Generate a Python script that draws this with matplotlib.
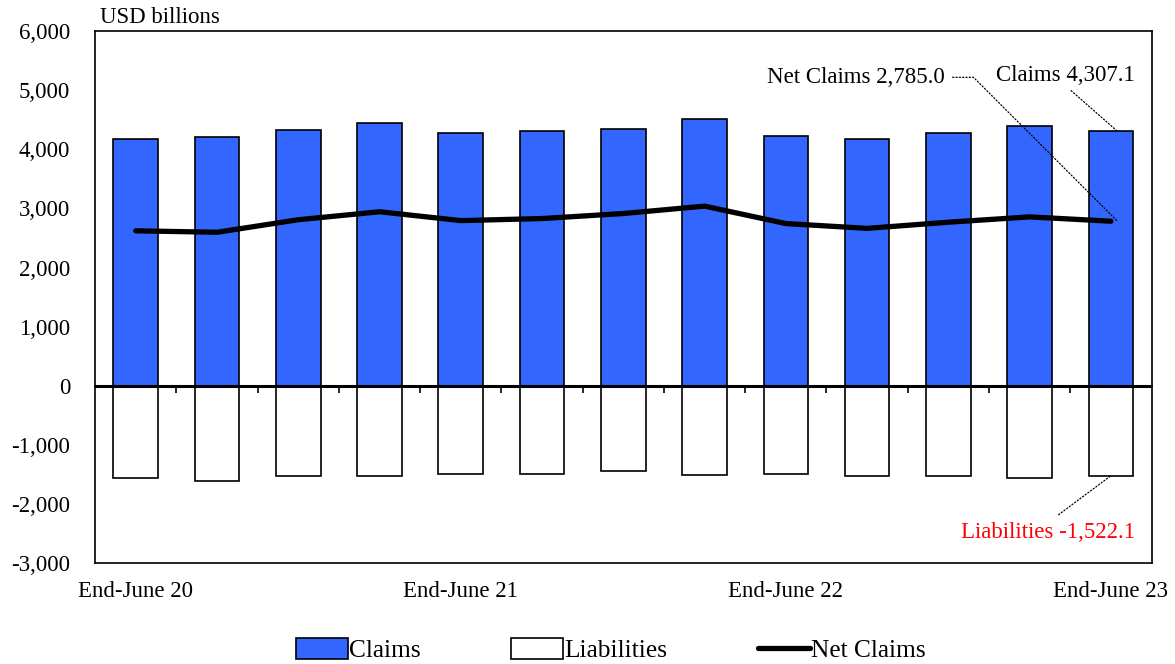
import numpy as np
import matplotlib.pyplot as plt
from matplotlib.ticker import FuncFormatter

plt.rcParams['font.family'] = ['Liberation Serif', 'DejaVu Serif']

# quarterly positions, USD billions
quarters = ['End-June 20', 'Sep 20', 'Dec 20', 'Mar 21', 'End-June 21', 'Sep 21', 'Dec 21',
            'Mar 22', 'End-June 22', 'Sep 22', 'Dec 22', 'Mar 23', 'End-June 23']
claims = [4171, 4205, 4324, 4454, 4273, 4313, 4352, 4522, 4228, 4178, 4285, 4403, 4307.1]
liabilities = [-1554, -1605, -1532, -1520, -1486, -1486, -1441, -1503, -1492, -1532, -1532, -1554, -1522.1]
net_claims = [2622, 2598, 2810, 2945, 2795, 2830, 2915, 3040, 2745, 2664, 2768, 2858, 2785.0]
label_idx = [0, 4, 8, 12]

x = np.arange(len(quarters))

fig = plt.figure(figsize=(11.75, 6.64), dpi=100)
ax = fig.add_axes([0.081, 0.152, 0.899, 0.801])

b1 = ax.bar(x, claims, width=0.55, color='#3366FF', edgecolor='black', linewidth=1.2, label='Claims', zorder=2)
b2 = ax.bar(x, liabilities, width=0.55, color='white', edgecolor='black', linewidth=1.2, label='Liabilities', zorder=2)
l1, = ax.plot(x, net_claims, color='black', linewidth=3.8, solid_capstyle='round', label='Net Claims', zorder=3)
ax.axhline(0, color='black', linewidth=2.2, zorder=4)

ax.set_xlim(-0.5, len(quarters) - 0.5)
ax.set_ylim(-3000, 6000)
ax.set_yticks(np.arange(-3000, 6001, 1000))
ax.yaxis.set_major_formatter(FuncFormatter(lambda v, p: f'{v:,.0f}'))
ax.tick_params(axis='y', length=0, labelsize=16.5, pad=18)

# category labels along the bottom edge
ax.set_xticks(label_idx)
ax.set_xticklabels([quarters[i] for i in label_idx])
ax.tick_params(axis='x', length=0, labelsize=16.5, pad=13)

# tick marks between categories on the zero line
sec = ax.secondary_xaxis(1 / 3)
sec.set_xticks(np.arange(0.5, len(quarters) - 1, 1.0))
sec.tick_params(axis='x', direction='out', length=5, width=1.2, labelbottom=False)
sec.spines['bottom'].set_linewidth(1.2)

for s in ax.spines.values():
    s.set_linewidth(1.2)

fig.text(0.085, 0.974, 'USD billions', fontsize=16.5, va='center', ha='left')

last = len(quarters) - 1
dotted = dict(arrowstyle='-', linestyle=':', color='black', linewidth=0.9, shrinkB=0)
ax.annotate(f'Net Claims {net_claims[last]:,.1f}', xy=(last + 0.08, net_claims[last]), xytext=(9.95, 5220),
            ha='right', va='center', fontsize=16.5,
            arrowprops=dict(dotted, shrinkA=4, connectionstyle='angle,angleA=0,angleB=-45,rad=0'))
ax.annotate(f'Claims {claims[last]:,.1f}', xy=(last + 0.08, claims[last]), xytext=(12.3, 5250),
            ha='right', va='center', fontsize=16.5,
            arrowprops=dict(dotted, shrinkA=2, relpos=(0.5, 0.0)))
ax.annotate(f'Liabilities {liabilities[last]:,.1f}', xy=(last, liabilities[last]), xytext=(12.3, -2490),
            ha='right', va='center', fontsize=16.5, color='#FF0000',
            arrowprops=dict(dotted, shrinkA=6, relpos=(0.5, 1.0)))

fig.legend(handles=[b1, b2, l1], loc='lower center', bbox_to_anchor=(0.52, -0.032), ncol=3, frameon=False,
           fontsize=18.3, handlelength=2.05, handleheight=0.9, handletextpad=0.05, columnspacing=3.55)

fig.savefig('out.png', dpi=100)
